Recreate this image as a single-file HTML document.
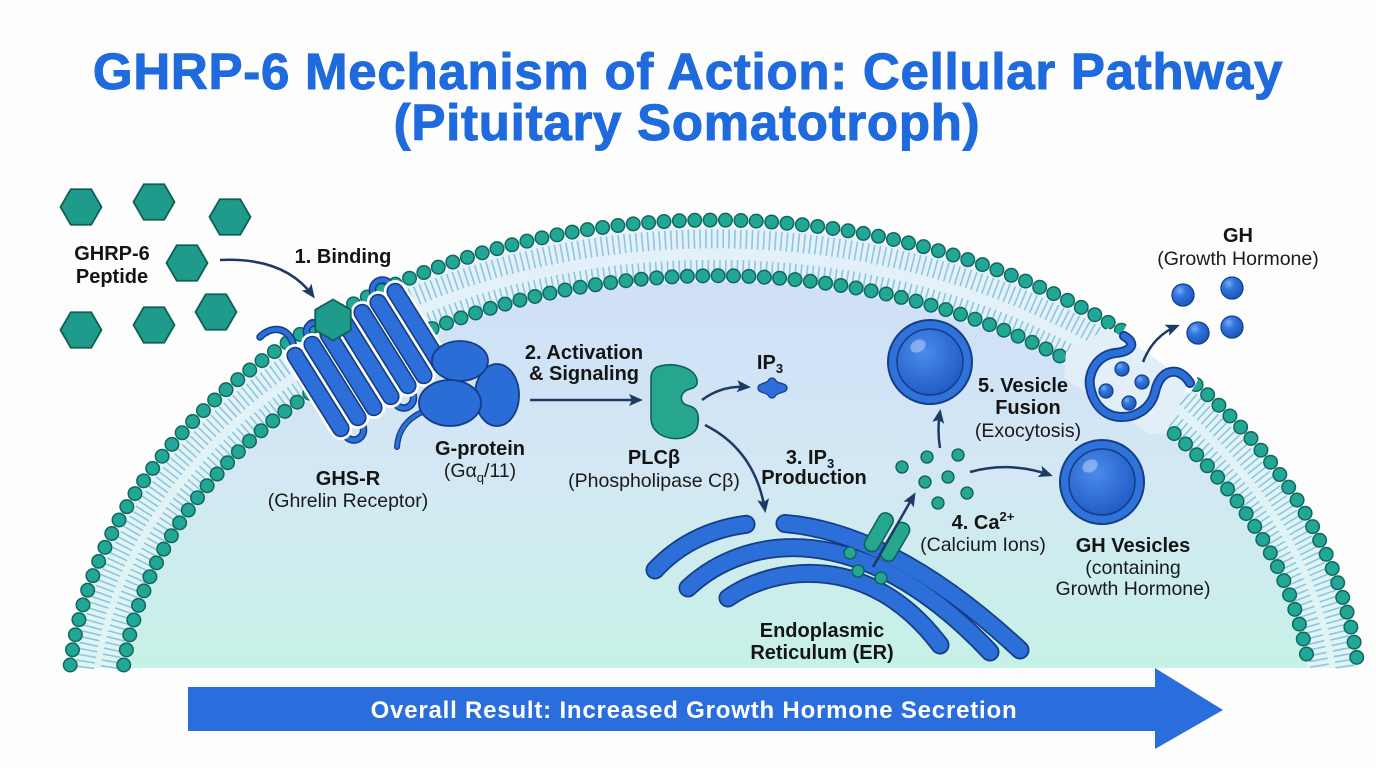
<!DOCTYPE html>
<html><head><meta charset="utf-8"><style>
html,body{margin:0;padding:0;background:#fdfdfd;overflow:hidden;width:1376px;height:768px}
svg{display:block;position:absolute;left:0;top:0}
.t{font-family:"Liberation Sans",sans-serif;font-weight:bold;font-size:51px;fill:#1f6adc;stroke:#1f6adc;stroke-width:1;text-anchor:middle;letter-spacing:0.75px}
.b{font-family:"Liberation Sans",sans-serif;font-weight:bold;font-size:20px;fill:#141414;text-anchor:middle}
.n{font-family:"Liberation Sans",sans-serif;font-size:19.5px;fill:#1a1a1a;text-anchor:middle}
</style></head><body>
<svg width="1376" height="768" viewBox="0 0 1376 768" xmlns="http://www.w3.org/2000/svg">
<defs>
 <linearGradient id="cellg" x1="0" y1="280" x2="0" y2="668" gradientUnits="userSpaceOnUse">
  <stop offset="0" stop-color="#cfdff7"/><stop offset="0.5" stop-color="#d3e8f4"/><stop offset="1" stop-color="#c6f1e6"/>
 </linearGradient>
 <linearGradient id="bandg" x1="0" y1="220" x2="0" y2="668" gradientUnits="userSpaceOnUse">
  <stop offset="0" stop-color="#e4f0fa"/><stop offset="1" stop-color="#e0f5f3"/>
 </linearGradient>
 <radialGradient id="gdot" cx="0.35" cy="0.3" r="0.75"><stop offset="0" stop-color="#7aaef3"/><stop offset="0.35" stop-color="#3277e0"/><stop offset="1" stop-color="#1c53b6"/></radialGradient>
 <radialGradient id="vesg" cx="0.4" cy="0.35" r="0.7"><stop offset="0" stop-color="#4a8ceb"/><stop offset="1" stop-color="#2059c4"/></radialGradient>
 <clipPath id="cellclip"><path d="M70.6,668 A647,494 0 0 1 1357.4,668 Z"/></clipPath>
 <marker id="ah" viewBox="0 0 14 12" refX="11" refY="6" markerWidth="14" markerHeight="12" markerUnits="userSpaceOnUse" orient="auto"><path d="M0,0 L14,6 L0,12 L3,6 Z" fill="#1c3a64"/></marker>
</defs>

<rect width="1376" height="768" fill="#fdfdfd"/>

<!-- Title -->
<text class="t" x="688" y="89">GHRP-6 Mechanism of Action: Cellular Pathway</text>
<text class="t" x="687" y="140">(Pituitary Somatotroph)</text>

<!-- Cell body and membrane -->
<path d="M70.6,668 A647,494 0 0 1 1357.4,668 Z" fill="url(#bandg)"/>
<path d="M124.2,668 A596,438 0 0 1 1307.8,668 Z" fill="url(#cellg)"/>
<path d="M84.7,668 A634,481 0 0 1 1345.3,668" fill="none" stroke="#8cc6df" stroke-width="19" stroke-dasharray="1.6 4.2"/>
<path d="M110.1,668 A609,451 0 0 1 1319.9,668" fill="none" stroke="#8cc6df" stroke-width="19" stroke-dasharray="1.6 4.2"/>
<g fill="none" stroke-linecap="round">
 <path d="M70.2,665 A647,494 0 0 1 1357.8,665" stroke="#0f675d" stroke-width="15" stroke-dasharray="0 15.4"/>
 <path d="M70.2,665 A647,494 0 0 1 1357.8,665" stroke="#22a796" stroke-width="12" stroke-dasharray="0 15.4"/>
 <path d="M123.7,665 A596,438 0 0 1 1308.3,665" stroke="#0f675d" stroke-width="15" stroke-dasharray="0 15.4"/>
 <path d="M123.7,665 A596,438 0 0 1 1308.3,665" stroke="#22a796" stroke-width="12" stroke-dasharray="0 15.4"/>
</g>

<!-- Exocytosis pocket -->
<polygon points="1128,322 1190,362 1198,380 1190,394 1126,352 1120,338" fill="#fdfdfd"/>
<g clip-path="url(#cellclip)">
 <polygon points="1126,318 1196,366 1166,434 1150,434 1064,378 1066,352" fill="#e2eef8"/>
</g>
<path d="M1124,336 C1138,344 1130,352 1115,353 C1095,356 1088,375 1090,386 C1093,405 1105,417 1122,417 C1140,417 1152,405 1155,392 C1158,378 1166,370 1177,372 C1183,374 1187,378 1190,383" fill="none" stroke="#143d85" stroke-width="10" stroke-linecap="round"/>
<path d="M1124,336 C1138,344 1130,352 1115,353 C1095,356 1088,375 1090,386 C1093,405 1105,417 1122,417 C1140,417 1152,405 1155,392 C1158,378 1166,370 1177,372 C1183,374 1187,378 1190,383" fill="none" stroke="#2d6fd9" stroke-width="6.5" stroke-linecap="round"/>
<g fill="url(#gdot)" stroke="#153f8a" stroke-width="1.2">
 <circle cx="1122" cy="369" r="7"/><circle cx="1142" cy="382" r="7"/><circle cx="1106" cy="391" r="7"/><circle cx="1129" cy="403" r="7"/>
</g>
<path d="M1143,362 Q1153,336 1177,326" fill="none" stroke="#1c3a64" stroke-width="2.5" marker-end="url(#ah)"/>

<!-- GH released -->
<g fill="url(#gdot)" stroke="#153f8a" stroke-width="1.3">
 <circle cx="1183" cy="295" r="11"/><circle cx="1232" cy="288" r="11"/><circle cx="1198" cy="333" r="11"/><circle cx="1232" cy="327" r="11"/>
</g>
<text class="b" x="1238" y="242">GH</text>
<text class="n" x="1238" y="265">(Growth Hormone)</text>

<!-- Peptides -->
<g fill="#1f9b8b" stroke="#0f5f55" stroke-width="1.8">
 <polygon points="-20.5,0 -10.25,-17.75 10.25,-17.75 20.5,0 10.25,17.75 -10.25,17.75" transform="translate(81,207)"/>
 <polygon points="-20.5,0 -10.25,-17.75 10.25,-17.75 20.5,0 10.25,17.75 -10.25,17.75" transform="translate(154,202)"/>
 <polygon points="-20.5,0 -10.25,-17.75 10.25,-17.75 20.5,0 10.25,17.75 -10.25,17.75" transform="translate(230,217)"/>
 <polygon points="-20.5,0 -10.25,-17.75 10.25,-17.75 20.5,0 10.25,17.75 -10.25,17.75" transform="translate(187,263)"/>
 <polygon points="-20.5,0 -10.25,-17.75 10.25,-17.75 20.5,0 10.25,17.75 -10.25,17.75" transform="translate(81,330)"/>
 <polygon points="-20.5,0 -10.25,-17.75 10.25,-17.75 20.5,0 10.25,17.75 -10.25,17.75" transform="translate(154,325)"/>
 <polygon points="-20.5,0 -10.25,-17.75 10.25,-17.75 20.5,0 10.25,17.75 -10.25,17.75" transform="translate(216,312)"/>
</g>
<text class="b" x="112" y="260">GHRP-6</text>
<text class="b" x="112" y="283">Peptide</text>
<text class="b" x="343" y="263">1. Binding</text>
<path d="M220,260 Q285,257 313,296" fill="none" stroke="#1c3a64" stroke-width="2.5" marker-end="url(#ah)"/>

<!-- Receptor loops -->
<g fill="none" stroke-linecap="round">
 <g stroke="#143d85" stroke-width="7.5">
  <path d="M308.5,338.6 C300.5,325.9 316.5,315.9 324.5,328.6"/>
  <path d="M374.5,296.6 C366.5,283.9 383.5,272.9 391.5,285.6"/>
  <path d="M344.5,434.4 C352.5,447.1 369.5,436.1 361.5,423.4"/>
  <path d="M394.5,402.4 C402.5,415.1 419.5,404.1 411.5,391.4"/>
  <path d="M260,337 C270,327 286,325 293,343"/>
 </g>
 <g stroke="#2d6fd9" stroke-width="4.5">
  <path d="M308.5,338.6 C300.5,325.9 316.5,315.9 324.5,328.6"/>
  <path d="M374.5,296.6 C366.5,283.9 383.5,272.9 391.5,285.6"/>
  <path d="M344.5,434.4 C352.5,447.1 369.5,436.1 361.5,423.4"/>
  <path d="M394.5,402.4 C402.5,415.1 419.5,404.1 411.5,391.4"/>
  <path d="M260,337 C270,327 286,325 293,343"/>
 </g>
</g>
<!-- Receptor cylinders -->
<g fill="#ffffff" stroke="#ffffff" stroke-width="7">
 <rect x="-8" y="-51" width="16" height="102" rx="8" transform="translate(318,392) rotate(-32)"/>
 <rect x="-8" y="-51" width="16" height="102" rx="8" transform="translate(335,381) rotate(-32)"/>
 <rect x="-8" y="-51" width="16" height="102" rx="8" transform="translate(351,371) rotate(-32)"/>
 <rect x="-8" y="-51" width="16" height="102" rx="8" transform="translate(368,360) rotate(-32)"/>
 <rect x="-8" y="-51" width="16" height="102" rx="8" transform="translate(385,349) rotate(-32)"/>
 <rect x="-8" y="-51" width="16" height="102" rx="8" transform="translate(401,339) rotate(-32)"/>
 <rect x="-8" y="-51" width="16" height="102" rx="8" transform="translate(418,328) rotate(-32)"/>
</g>
<g fill="#2d6fd9" stroke="#143d85" stroke-width="1.6">
 <rect x="-8" y="-51" width="16" height="102" rx="8" transform="translate(318,392) rotate(-32)"/>
 <rect x="-8" y="-51" width="16" height="102" rx="8" transform="translate(335,381) rotate(-32)"/>
 <rect x="-8" y="-51" width="16" height="102" rx="8" transform="translate(351,371) rotate(-32)"/>
 <rect x="-8" y="-51" width="16" height="102" rx="8" transform="translate(368,360) rotate(-32)"/>
 <rect x="-8" y="-51" width="16" height="102" rx="8" transform="translate(385,349) rotate(-32)"/>
 <rect x="-8" y="-51" width="16" height="102" rx="8" transform="translate(401,339) rotate(-32)"/>
 <rect x="-8" y="-51" width="16" height="102" rx="8" transform="translate(418,328) rotate(-32)"/>
</g>
<polygon points="333,299.5 350.75,309.75 350.75,330.25 333,340.5 315.25,330.25 315.25,309.75" fill="#1f9b8b" stroke="#0f5f55" stroke-width="1.8"/>
<text class="b" x="348" y="485">GHS-R</text>
<text class="n" x="348" y="507">(Ghrelin Receptor)</text>

<!-- G-protein -->
<path d="M422,412 C405,420 398,432 397,447" fill="none" stroke="#143d85" stroke-width="6" stroke-linecap="round"/>
<path d="M422,412 C405,420 398,432 397,447" fill="none" stroke="#2d6fd9" stroke-width="3.5" stroke-linecap="round"/>
<g fill="#2b6dd6" stroke="#143d85" stroke-width="1.8">
 <ellipse cx="497" cy="395" rx="22" ry="31"/>
 <ellipse cx="460" cy="361" rx="28" ry="20"/>
 <ellipse cx="450" cy="403" rx="31" ry="23"/>
</g>
<text class="b" x="480" y="455">G-protein</text>
<text class="n" x="480" y="477">(Gα<tspan font-size="13" dy="5">q</tspan><tspan dy="-5">/11)</tspan></text>

<!-- Activation -->
<text class="b" x="584" y="359">2. Activation</text>
<text class="b" x="584" y="380">&amp; Signaling</text>
<path d="M530,400 L640,400" fill="none" stroke="#1c3a64" stroke-width="2.5" marker-end="url(#ah)"/>

<!-- PLC -->
<path d="M660,366 C675,362 695,368 697,380 C698,386 694,388 690,389 C683,391 680,396 682,401 C684,406 690,405 694,408 C699,412 699,420 697,428 C692,437 680,440 670,438 C658,436 651,428 651,418 L651,378 C651,371 655,367 660,366 Z" fill="#26a58f" stroke="#0f5f55" stroke-width="1.6"/>
<text class="b" x="654" y="464">PLCβ</text>
<text class="n" x="654" y="487">(Phospholipase Cβ)</text>
<path d="M702,400 Q722,385 748,387" fill="none" stroke="#1c3a64" stroke-width="2.5" marker-end="url(#ah)"/>
<path d="M758,388 C758,383 765,384 768,381 C770,377 774,377 776,381 C779,384 787,383 787,388 C787,393 779,392 776,395 C774,399 770,399 768,395 C765,392 758,393 758,388 Z" fill="#2d6fd8" stroke="#163f88" stroke-width="1.3"/>
<text class="b" x="770" y="369">IP<tspan font-size="13" dy="4">3</tspan></text>
<path d="M705,425 Q755,450 765,510" fill="none" stroke="#1c3a64" stroke-width="2.5" marker-end="url(#ah)"/>
<text class="b" x="810" y="464">3. IP<tspan font-size="13" dy="4">3</tspan></text>
<text class="b" x="814" y="484">Production</text>

<!-- ER -->
<g fill="none" stroke-linecap="round">
 <g stroke="#143d85" stroke-width="19">
  <path d="M655,570 C715,505 845,487 1020,650" stroke-dasharray="104 39 2000"/>
  <path d="M688,588 C745,534 862,516 990,652"/>
  <path d="M728,598 C775,565 870,552 940,645"/>
 </g>
 <g stroke="#2c6fd8" stroke-width="15.5">
  <path d="M655,570 C715,505 845,487 1020,650" stroke-dasharray="104 39 2000"/>
  <path d="M688,588 C745,534 862,516 990,652"/>
  <path d="M728,598 C775,565 870,552 940,645"/>
 </g>
</g>
<g fill="#26a58f" stroke="#0f5f55" stroke-width="1.5" transform="translate(887,537) rotate(30)">
 <rect x="-17" y="-21" width="15" height="42" rx="7"/>
 <rect x="2" y="-21" width="15" height="42" rx="7"/>
</g>
<g fill="#25a592" stroke="#0f5e53" stroke-width="1.3">
 <circle cx="850" cy="553" r="6"/><circle cx="858" cy="571" r="6"/><circle cx="881" cy="578" r="6"/>
</g>
<path d="M873,567 L914,495" fill="none" stroke="#1c3a64" stroke-width="2.5" marker-end="url(#ah)"/>
<text class="b" x="822" y="637">Endoplasmic</text>
<text class="b" x="822" y="659">Reticulum (ER)</text>

<!-- Calcium -->
<g fill="#25a592" stroke="#0f5e53" stroke-width="1.3">
 <circle cx="927" cy="457" r="6"/><circle cx="958" cy="455" r="6"/><circle cx="902" cy="467" r="6"/>
 <circle cx="925" cy="482" r="6"/><circle cx="948" cy="477" r="6"/><circle cx="967" cy="493" r="6"/><circle cx="938" cy="503" r="6"/>
</g>
<text class="b" x="983" y="529">4. Ca<tspan font-size="13" dy="-8">2+</tspan></text>
<text class="n" x="983" y="551">(Calcium Ions)</text>
<path d="M940,448 Q937,430 940,412" fill="none" stroke="#1c3a64" stroke-width="2.5" marker-end="url(#ah)"/>
<path d="M970,472 Q1010,461 1050,475" fill="none" stroke="#1c3a64" stroke-width="2.5" marker-end="url(#ah)"/>

<!-- Vesicles -->
<g stroke="#143d85">
 <circle cx="930" cy="362" r="42" fill="#2f72da" stroke-width="2"/>
 <circle cx="930" cy="362" r="33" fill="url(#vesg)" stroke-width="1.5"/>
 <ellipse cx="918" cy="346" rx="8" ry="6" fill="#ffffff" fill-opacity="0.35" stroke="none" transform="rotate(-30 918 346)"/>
 <circle cx="1102" cy="482" r="42" fill="#2f72da" stroke-width="2"/>
 <circle cx="1102" cy="482" r="33" fill="url(#vesg)" stroke-width="1.5"/>
 <ellipse cx="1090" cy="466" rx="8" ry="6" fill="#ffffff" fill-opacity="0.35" stroke="none" transform="rotate(-30 1090 466)"/>
</g>
<text class="b" x="1023" y="392">5. Vesicle</text>
<text class="b" x="1028" y="414">Fusion</text>
<text class="n" x="1028" y="437">(Exocytosis)</text>
<text class="b" x="1133" y="552">GH Vesicles</text>
<text class="n" x="1133" y="574">(containing</text>
<text class="n" x="1133" y="595">Growth Hormone)</text>

<!-- Bottom arrow -->
<polygon points="188,687 1155,687 1155,668 1223,710 1155,749 1155,731 188,731" fill="#2a6ddc"/>
<text x="694" y="718" style="font-family:'Liberation Sans',sans-serif;font-weight:bold;font-size:24px;fill:#ffffff;text-anchor:middle;letter-spacing:0.8px">Overall Result: Increased Growth Hormone Secretion</text>
</svg>
</body></html>
